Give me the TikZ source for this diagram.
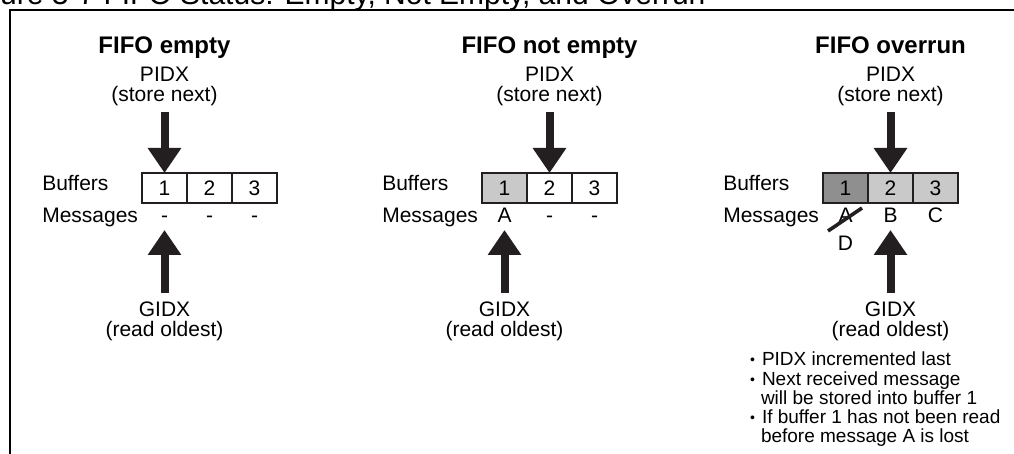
\documentclass[tikz,border=0pt]{standalone}
\usepackage{fontspec}
\setmainfont{Liberation Sans}
\usetikzlibrary{arrows.meta, positioning}
\definecolor{fifolight}{RGB}{201,201,201}
\definecolor{fifodark}{RGB}{143,143,143}
\definecolor{fifoink}{RGB}{35,31,32}
\newcommand{\fifobullet}{\makebox[12pt][l]{\fontsize{14}{14}\selectfont\raisebox{1pt}{\textbullet}}}
\tikzset{
  cell/.style={rectangle, draw=fifoink, line width=1.2pt, fill=#1,
               minimum width=45pt, minimum height=30pt, inner sep=0pt,
               outer sep=0pt, font=\fontsize{21}{21}\selectfont},
  cell/.default=white,
  msg/.style={minimum width=45pt, inner sep=0pt, outer sep=0pt,
              text height=15pt, text depth=0pt, font=\fontsize{21}{21}\selectfont},
  lbl/.style={inner sep=0pt, outer sep=0pt, text height=15pt, text depth=0pt,
              font=\fontsize{21}{21}\selectfont},
  idx/.style={inner sep=0pt, outer sep=0pt, align=center,
              font=\fontsize{21}{19.5}\selectfont},
  heading/.style={inner sep=0pt, outer sep=0pt, text depth=0pt,
                  font=\fontsize{24}{24}\selectfont\bfseries},
  bigarrow/.style={line width=8pt, color=fifoink,
                   -{Triangle[length=25pt, width=32pt]}},
  strike/.style={line width=3.6pt, color=fifoink},
  notes/.style={inner sep=0pt, outer sep=0pt, align=left,
                font=\fontsize{19}{19.25}\selectfont},
}

\begin{document}
\begin{tikzpicture}[x=1pt, y=-1pt]
    \useasboundingbox (0,0) rectangle (1014,454);
    \clip (0,0) rectangle (1014,454);
    % caption and frame
    \node[anchor=base west, inner sep=0pt, font=\fontsize{30}{30}\selectfont] (caption) at (-41.7,5)
      {Figure 3-7 FIFO Status: Empty, Not Empty, and Overrun};
    \draw[line width=2pt] (10,10) rectangle (1040,480);

    % FIFO empty
    \node[cell] (cellA1) at (164.5,188) {1};
    \node[cell, right=0pt of cellA1] (cellA2) {2};
    \node[cell, right=0pt of cellA2] (cellA3) {3};
    \node[msg, below=5pt of cellA1] (msgA1) {-};
    \node[msg, below=5pt of cellA2] (msgA2) {-};
    \node[msg, below=5pt of cellA3] (msgA3) {-};
    \node[lbl, left=4pt of msgA1] (msgsA) {Messages};
    \node[lbl, above=17pt of msgsA.north west, anchor=south west] (bufsA) {Buffers};
    \node[idx, above=67.5pt of cellA1] (pidxA) {PIDX\\(store next)};
    \node[heading, above=13.5pt of pidxA] (headA) {FIFO empty};
    \node[idx, below=79pt of msgA1] (gidxA) {GIDX\\(read oldest)};
    \draw[bigarrow, shorten <=6.5pt] (pidxA) -- (cellA1);
    \draw[bigarrow, shorten <=9pt, shorten >=7pt] (gidxA) -- (msgA1);

    % FIFO not empty
    \node[cell=fifolight] (cellB1) at (504.5,188) {1};
    \node[cell, right=0pt of cellB1] (cellB2) {2};
    \node[cell, right=0pt of cellB2] (cellB3) {3};
    \node[msg, below=5pt of cellB1] (msgB1) {A};
    \node[msg, below=5pt of cellB2] (msgB2) {-};
    \node[msg, below=5pt of cellB3] (msgB3) {-};
    \node[lbl, left=4pt of msgB1] (msgsB) {Messages};
    \node[lbl, above=17pt of msgsB.north west, anchor=south west] (bufsB) {Buffers};
    \node[idx, above=67.5pt of cellB2] (pidxB) {PIDX\\(store next)};
    \node[heading, above=13.5pt of pidxB] (headB) {FIFO not empty};
    \node[idx, below=79pt of msgB1] (gidxB) {GIDX\\(read oldest)};
    \draw[bigarrow, shorten <=6.5pt] (pidxB) -- (cellB2);
    \draw[bigarrow, shorten <=9pt, shorten >=7pt] (gidxB) -- (msgB1);

    % FIFO overrun
    \node[cell=fifodark] (cellC1) at (845.5,188) {1};
    \node[cell=fifolight, right=0pt of cellC1] (cellC2) {2};
    \node[cell=fifolight, right=0pt of cellC2] (cellC3) {3};
    \node[msg, below=5pt of cellC1] (msgC1) {A};
    \node[msg, below=5pt of cellC2] (msgC2) {B};
    \node[msg, below=5pt of cellC3] (msgC3) {C};
    \node[msg, below=13pt of msgC1] (msgC1new) {D};
    \node[lbl, left=4pt of msgC1] (msgsC) {Messages};
    \node[lbl, above=17pt of msgsC.north west, anchor=south west] (bufsC) {Buffers};
    \node[idx, above=67.5pt of cellC2] (pidxC) {PIDX\\(store next)};
    \node[heading, above=13.5pt of pidxC] (headC) {FIFO overrun};
    \node[idx, below=79pt of msgC2] (gidxC) {GIDX\\(read oldest)};
    \draw[bigarrow, shorten <=6.5pt] (pidxC) -- (cellC2);
    \draw[bigarrow, shorten <=9pt, shorten >=7pt] (gidxC) -- (msgC2);
    \draw[strike] ([shift={(-17.5,15.5)}]msgC1.center) -- ([shift={(16.5,-7.5)}]msgC1.center);
    \node[notes, anchor=north west] (notesC) at (750,352) {%
      \fifobullet PIDX incremented last\\
      \fifobullet Next received message\\
      \hspace*{11pt}will be stored into buffer 1\\
      \fifobullet If buffer 1 has not been read\\
      \hspace*{11pt}before message A is lost};
\end{tikzpicture}
\end{document}
